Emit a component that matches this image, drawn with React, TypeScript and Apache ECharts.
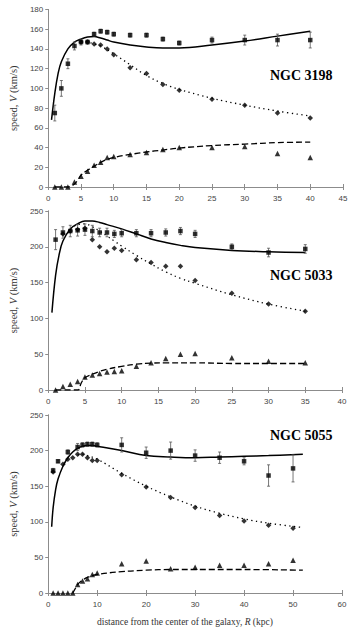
import React, { useEffect, useRef } from "react";
import * as echarts from "echarts";

// ---------- NGC 3198 ----------
const r1Obs = [1, 2, 3, 4, 5, 6, 7, 8, 9, 10, 12.5, 15, 17.5, 20, 25, 30, 35, 40];
const v1Obs = [75, 100, 125, 143, 147, 147, 155, 158, 157, 155, 154, 154, 150, 146, 149, 149, 149, 149];
const e1Obs = [8, 8, 5, 4, 3, 2, 2, 2, 2, 2, 2, 2, 2, 2, 3, 5, 6, 8];
const r1Dia = [5, 6, 7, 8, 9, 10, 12.5, 15, 17.5, 20, 25, 30, 35, 40];
const v1Dia = [147, 147, 145, 144, 140, 134, 121, 115, 104, 98, 89, 83, 75, 70];
const r1Tri = [1, 2, 3, 4, 5, 6, 7, 8, 9, 10, 12.5, 15, 17.5, 20, 25, 30, 35, 40];
const v1Tri = [0, 0, 0, 5, 11, 16, 22, 25, 30, 31, 33, 35, 38, 40, 40, 41, 34, 30];
const r1Sol = [0.5, 1, 1.5, 2, 3, 4, 5, 6, 7, 8, 9, 10, 12.5, 15, 17.5, 20, 25, 30, 35, 40];
const v1Sol = [68, 95, 115, 127, 140, 147, 150, 152, 152.5, 151, 149, 147, 144, 142, 141, 141, 144, 148, 153, 158];
const r1Dot = [5, 6, 7, 8, 10, 12.5, 15, 17.5, 20, 25, 30, 35, 40];
const v1Dot = [148, 147, 145, 143, 135, 124, 113, 105, 99, 90, 83, 77, 72];
const r1Dash = [1, 3, 3.5, 4, 4.5, 5, 6, 7, 8, 9, 10, 12.5, 15, 17.5, 20, 25, 30, 35, 40];
const v1Dash = [0, 0, 1, 3, 7, 12, 17, 21, 25, 28, 30, 33, 35.5, 37.5, 39.5, 42, 43.5, 45, 45.5];

// ---------- NGC 5033 ----------
const r2Obs = [1, 2, 3, 4, 5, 6, 7, 8, 9, 10, 12, 14, 16, 18, 20, 25, 30, 35];
const v2Obs = [210, 220, 222, 223, 224, 222, 220, 220, 218, 219, 219, 219, 220, 222, 218, 200, 192, 197];
const e2Obs = [14, 8, 8, 8, 8, 8, 6, 6, 5, 5, 5, 5, 5, 5, 5, 4, 6, 6];
const r2Dia = [2, 3, 4, 5, 6, 7, 8, 9, 10, 12, 14, 16, 18, 20, 25, 30, 35];
const v2Dia = [218, 222, 224, 226, 210, 200, 193, 198, 195, 182, 178, 173, 173, 153, 135, 120, 110];
const r2Tri = [1, 2, 3, 4, 5, 6, 7, 8, 9, 10, 12, 14, 16, 18, 20, 25, 30, 35];
const v2Tri = [0, 5, 8, 12, 18, 21, 23, 25, 26, 27, 33, 38, 44, 50, 51, 45, 40, 38];
const r2Sol = [0.5, 1, 1.5, 2, 3, 4, 5, 6, 7, 8, 10, 12, 14, 16, 18, 20, 25, 30, 35];
const v2Sol = [108, 160, 190, 208, 225, 232, 236, 236, 234, 231, 225, 218, 211, 206, 202, 199, 195, 193, 192];
const r2Dot = [3, 4, 5, 6, 7, 8, 9, 10, 12, 14, 16, 18, 20, 25, 30, 35];
const v2Dot = [225, 231, 232, 228, 222, 215, 208, 201, 188, 176, 165, 156, 149, 133, 120, 110];
const r2Dash = [1, 4, 4.5, 5, 6, 7, 8, 10, 12, 14, 16, 20, 25, 30, 35];
const v2Dash = [0, 0, 10, 17, 22, 26, 29, 33, 36, 37.5, 38, 38, 37, 37, 37];

// ---------- NGC 5055 ----------
const r3Obs = [1, 2, 4, 6, 7, 8, 9, 10, 15, 20, 25, 30, 35, 40, 45, 50];
const v3Obs = [172, 185, 198, 205, 208, 209, 209, 208, 208, 197, 200, 193, 190, 185, 165, 175];
const e3Obs = [3, 2, 3, 5, 3, 3, 3, 3, 10, 8, 12, 8, 8, 5, 15, 19];
const r3Dia = [1, 3, 4, 5, 6, 7, 8, 9, 10, 15, 20, 25, 30, 35, 40, 45, 50];
const v3Dia = [170, 181, 188, 190, 195, 195, 190, 186, 186, 166, 149, 134, 120, 109, 101, 95, 91];
const r3Tri = [1, 2, 3, 4, 5, 6, 7, 8, 9, 10, 15, 20, 25, 30, 35, 40, 45, 50];
const v3Tri = [0, 0, 0, 0, 0, 12, 17, 20, 26, 28, 41, 45, 34, 36, 39, 39, 41, 46];
const r3Sol = [0.7, 1, 1.5, 2, 3, 4, 5, 6, 7, 8, 9, 10, 15, 20, 25, 30, 35, 40, 45, 52];
const v3Sol = [93, 120, 145, 160, 178, 190, 198, 203, 206, 207, 207, 206, 200, 193, 191, 190, 191, 192, 193, 195];
const r3Dot = [6, 7, 8, 10, 15, 20, 25, 30, 35, 40, 45, 52];
const v3Dot = [194, 195, 193, 188, 168, 150, 135, 122, 112, 104, 98, 92];
const r3Dash = [5, 5.5, 6, 7, 8, 10, 15, 20, 25, 30, 40, 52];
const v3Dash = [0, 6, 12, 18, 22, 26, 30, 32, 33, 33, 33, 32];

const xMax = [45, 40, 60];
const xStep = [5, 5, 10];
const yMax = [180, 250, 250];
const yStep = [20, 50, 50];
const names = ["NGC 3198", "NGC 5033", "NGC 5055"];

const zip = (a: number[], b: number[]) => a.map((x, i) => [x, b[i]]);
const zip3 = (a: number[], b: number[], c: number[]) => a.map((x, i) => [x, b[i], c[i]]);

const panels = [
  { obs: zip3(r1Obs, v1Obs, e1Obs), dia: zip(r1Dia, v1Dia), tri: zip(r1Tri, v1Tri), sol: zip(r1Sol, v1Sol), dot: zip(r1Dot, v1Dot), dash: zip(r1Dash, v1Dash) },
  { obs: zip3(r2Obs, v2Obs, e2Obs), dia: zip(r2Dia, v2Dia), tri: zip(r2Tri, v2Tri), sol: zip(r2Sol, v2Sol), dot: zip(r2Dot, v2Dot), dash: zip(r2Dash, v2Dash) },
  { obs: zip3(r3Obs, v3Obs, e3Obs), dia: zip(r3Dia, v3Dia), tri: zip(r3Tri, v3Tri), sol: zip(r3Sol, v3Sol), dot: zip(r3Dot, v3Dot), dash: zip(r3Dash, v3Dash) },
];

const grids = [
  { left: 43, top: 9.5, width: 300, height: 177.5 },
  { left: 43, top: 211, width: 299, height: 179 },
  { left: 43, top: 415, width: 299, height: 178 },
];
const nameY = [76, 276, 436];

const FRAME = "#8c8c8c";
const SERIF = "'Liberation Serif', 'DejaVu Serif', serif";
const SANS = "'Liberation Sans', Arial, sans-serif";

export default function App() {
  const ref = useRef<HTMLDivElement>(null);
  useEffect(() => {
    document.body.style.margin = "0";
    const chart = echarts.init(ref.current!, null, { renderer: "svg" });
    const xAxis: any[] = [];
    const yAxis: any[] = [];
    const series: any[] = [];
    for (let i = 0; i < 3; i++) {
      xAxis.push({
        type: "value", gridIndex: i, min: 0, max: xMax[i], interval: xStep[i],
        axisLine: { lineStyle: { color: FRAME, width: 1 } },
        axisTick: { inside: true, length: 3, lineStyle: { color: FRAME } },
        axisLabel: { color: "#444", fontSize: 8, fontFamily: SANS, margin: 7 },
        splitLine: { show: false },
      });
      yAxis.push({
        type: "value", gridIndex: i, min: 0, max: yMax[i], interval: yStep[i],
        axisLine: { show: true, lineStyle: { color: FRAME, width: 1 } },
        axisTick: { show: true, inside: false, length: 2, lineStyle: { color: FRAME } },
        axisLabel: { color: "#444", fontSize: 8, fontFamily: SANS, margin: 5 },
        splitLine: { show: false },
        name: "{a|speed, }{i|V}{a| (km/s)}",
        nameLocation: "middle",
        nameGap: 25,
        nameTextStyle: {
          rich: {
            a: { fontFamily: SERIF, fontSize: 10.5, color: "#333" },
            i: { fontFamily: SERIF, fontSize: 10.5, fontStyle: "italic", color: "#333" },
          },
        },
      });
    }
    for (let i = 0; i < 3; i++) {
      xAxis.push({
        type: "value", gridIndex: i, position: "top", min: 0, max: xMax[i], interval: xStep[i],
        axisLine: { lineStyle: { color: FRAME, width: 1 } },
        axisTick: { inside: true, length: 3, lineStyle: { color: FRAME } },
        axisLabel: { show: false }, splitLine: { show: false },
      });
      yAxis.push({
        type: "value", gridIndex: i, position: "right", min: 0, max: yMax[i], interval: yStep[i],
        axisLine: { show: true, lineStyle: { color: FRAME, width: 1 } },
        axisTick: { show: true, inside: true, length: 3, lineStyle: { color: FRAME } },
        axisLabel: { show: false }, splitLine: { show: false },
      });
    }
    panels.forEach((p, i) => {
      const ax = { xAxisIndex: i, yAxisIndex: i };
      series.push({
        type: "line", ...ax, data: p.sol, smooth: 0.4, showSymbol: false,
        lineStyle: { color: "#000", width: 1.5 }, z: 3,
      });
      series.push({
        type: "line", ...ax, data: p.dot, smooth: 0.4, showSymbol: false,
        lineStyle: { color: "#000", width: 1.3, type: [1.3, 3.5] }, z: 3,
      });
      series.push({
        type: "line", ...ax, data: p.dash, smooth: 0.4, showSymbol: false,
        lineStyle: { color: "#000", width: 1.3, type: [6, 3] }, z: 3,
      });
      series.push({
        type: "custom", ...ax, data: p.obs, z: 4,
        renderItem: (params: any, api: any) => {
          const x = api.value(0), y = api.value(1), e = api.value(2);
          const t = api.coord([x, y + e]);
          const b = api.coord([x, y - e]);
          const st = { stroke: "#555", lineWidth: 0.8 };
          return {
            type: "group",
            children: [
              { type: "line", shape: { x1: t[0], y1: t[1], x2: b[0], y2: b[1] }, style: st },
              { type: "line", shape: { x1: t[0] - 1.5, y1: t[1], x2: t[0] + 1.5, y2: t[1] }, style: st },
              { type: "line", shape: { x1: b[0] - 1.5, y1: b[1], x2: b[0] + 1.5, y2: b[1] }, style: st },
            ],
          };
        },
      });
      series.push({
        type: "scatter", ...ax, data: p.obs.map((d) => [d[0], d[1]]), symbol: "rect", symbolSize: 4.5,
        itemStyle: { color: "#000" }, z: 5,
      });
      series.push({
        type: "scatter", ...ax, data: p.dia, symbol: "diamond", symbolSize: 5.5,
        itemStyle: { color: "#000" }, z: 5,
      });
      series.push({
        type: "scatter", ...ax, data: p.tri, symbol: "triangle", symbolSize: 5.5,
        itemStyle: { color: "#000" }, z: 5,
      });
    });
    const graphic: any[] = names.map((n, i) => ({
      type: "text", left: 270, top: nameY[i] - 8,
      style: { text: n, fontFamily: SERIF, fontSize: 14, fontWeight: "bold", fill: "#000" },
    }));
    graphic.push({
      type: "text", left: 97, top: 617,
      style: {
        text: "{a|distance from the center of the galaxy, }{i|R}{a| (kpc)}",
        rich: {
          a: { fontFamily: SERIF, fontSize: 9.5, fill: "#333" },
          i: { fontFamily: SERIF, fontSize: 9.5, fontStyle: "italic", fill: "#333" },
        },
      },
    });
    chart.setOption({
      animation: false,
      backgroundColor: "#fff",
      grid: grids,
      xAxis,
      yAxis,
      series,
      graphic,
    });
    return () => chart.dispose();
  }, []);
  return <div ref={ref} style={{ width: 357, height: 635 }} />;
}
